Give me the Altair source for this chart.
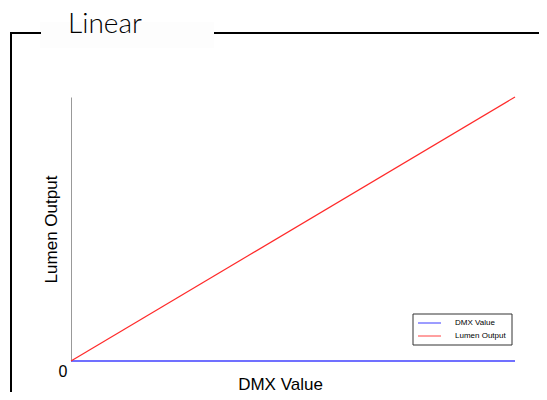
import altair as alt
import pandas as pd

# ---- data ----
dmx = [0, 255]
lumen_output = [0, 100]
dmx_value_series = [0, 0]
series_names = ["DMX Value", "Lumen Output"]
series_colors = ["#7070ff", "#ff2a2a"]
title_text = "Linear"
x_title = "DMX Value"
y_title = "Lumen Output"

df = pd.DataFrame({
    "dmx": dmx + dmx,
    "value": dmx_value_series + lumen_output,
    "series": [series_names[0]] * len(dmx) + [series_names[1]] * len(dmx),
})

W, H = 444, 264

x_enc = alt.X("dmx:Q", scale=alt.Scale(domain=[0, 255], nice=False, zero=True),
              axis=alt.Axis(title=x_title, domain=False, ticks=False, labels=False, grid=False,
                            titleFont="Liberation Sans", titleFontSize=17, titleFontWeight="normal",
                            titleColor="#000", titleX=209, titleY=28, titleBaseline="alphabetic"))
y_enc = alt.Y("value:Q", scale=alt.Scale(domain=[0, 100], nice=False),
              axis=alt.Axis(title=y_title, values=[0], domain=True, domainColor="#999999",
                            ticks=False, grid=False, labelFont="Liberation Sans", labelFontSize=16,
                            labelColor="#000", labelBaseline="top", labelPadding=4, labelOffset=2,
                            titleFont="Liberation Sans", titleFontSize=17, titleFontWeight="normal",
                            titleColor="#000", titleX=-15, titleY=132, titleAngle=270,
                            titleBaseline="alphabetic", titleAlign="center"))

lines = alt.Chart(df).mark_line(clip=False).encode(
    x=x_enc, y=y_enc,
    color=alt.Color("series:N", scale=alt.Scale(domain=series_names, range=series_colors), legend=None),
    strokeWidth=alt.StrokeWidth("series:N", scale=alt.Scale(domain=series_names, range=[2, 1.2]), legend=None),
)

# frame (fieldset-like)
title_bg = alt.Chart().mark_rect(fill="#fdfdfd").encode(
    x=alt.value(-31), x2=alt.value(143), y=alt.value(-75), y2=alt.value(-49))
frame_left = alt.Chart().mark_rule(color="#000", strokeWidth=2).encode(
    x=alt.value(-61), x2=alt.value(-30), y=alt.value(-64))
frame_right = alt.Chart().mark_rule(color="#000", strokeWidth=2).encode(
    x=alt.value(143), x2=alt.value(480), y=alt.value(-64))
frame_vert = alt.Chart().mark_rule(color="#000", strokeWidth=2).encode(
    x=alt.value(-60), y=alt.value(-65), y2=alt.value(310))
title = alt.Chart().mark_text(font="Lato", fontSize=28, fontWeight=300, align="left",
                              baseline="alphabetic", color="#000").encode(
    x=alt.value(-3), y=alt.value(-64), text=alt.value(title_text))

# legend box
leg_box = alt.Chart().mark_rect(fill="white", stroke="#333", strokeWidth=1).encode(
    x=alt.value(342), x2=alt.value(441), y=alt.value(217), y2=alt.value(248))
leg_items = []
for i, (name, col) in enumerate(zip(series_names, ["#3a3aff", "#ff4040"])):
    yy = 226 + 13 * i
    leg_items.append(alt.Chart().mark_rule(color=col, strokeWidth=1).encode(
        x=alt.value(347), x2=alt.value(370), y=alt.value(yy)))
    leg_items.append(alt.Chart().mark_text(font="Liberation Sans", fontSize=8, align="left",
                                           baseline="middle", color="#000").encode(
        x=alt.value(384), y=alt.value(yy), text=alt.value(name)))

chart = alt.layer(title_bg, frame_left, frame_right, frame_vert, title, lines, leg_box, *leg_items).properties(
    width=W, height=H,
    autosize=alt.AutoSizeParams(type="none"),
    padding={"left": 63, "top": 89, "right": 24, "bottom": 31},
).configure_view(stroke=None)

chart.save("out.html", embed_options={"renderer": "svg", "actions": False})
